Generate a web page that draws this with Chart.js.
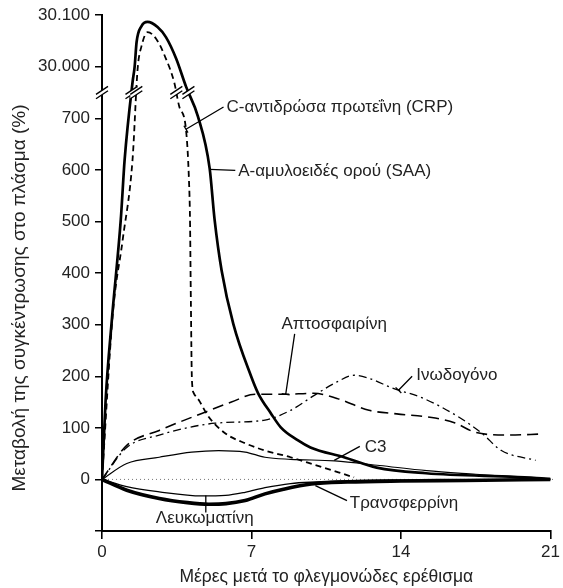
<!DOCTYPE html>
<html lang="el">
<head>
<meta charset="UTF-8">
<title>Πρωτεΐνες οξείας φάσης</title>
<script src="https://cdn.jsdelivr.net/npm/chart.js@4.4.1/dist/chart.umd.min.js"></script>
<style>
  body { margin: 0; background: #fff; }
  .wrap { position: relative; width: 563px; height: 588px; }
</style>
</head>
<body>
<div class="wrap"><canvas id="apr"></canvas></div>
<script>
// tick marks of the figure
const xTicks = [0, 7, 14, 21];
const yTicks = [0, 100, 200, 300, 400, 500, 600, 700, 30000, 30100];

// axis is cut between 700 and 30.000 (values above the cut are shifted down)
const BREAK_AT = 750;
const UPPER_SHIFT = 29200;

// days after the stimulus / % change
const saaDays = [0, 0.17, 0.46, 0.88, 1.06, 1.43, 1.53, 1.62, 1.85, 2.13, 2.6, 3.0, 3.47, 3.93, 4.49, 5.04, 5.27, 5.6, 6.15, 6.98, 7.31, 7.91, 8.37, 9.16, 9.76, 11.33, 12.86, 15.17, 20.58, 21];
const saaValues = [0, 154, 309, 504, 620, 29970, 30001, 30048, 30079, 30087, 30077, 30057, 30016, 29962, 704, 603, 504, 405, 301, 200, 167, 128, 101, 76, 62, 43, 23, 12, 2, 0];

const crpDays = [0, 0.51, 0.97, 1.43, 1.67, 1.85, 2.13, 2.54, 3.0, 3.38, 3.61, 3.93, 4.07, 4.12, 4.16, 4.21, 4.3, 4.53, 5.0, 5.78, 6.71, 7.63, 8.83, 9.6, 11.8];
const crpValues = [0, 323, 465, 620, 29997, 30040, 30067, 30054, 30015, 29970, 724, 679, 582, 504, 348, 193, 167, 154, 121, 89, 70, 56, 43, 33, 4];

const haptoDays = [0, 1.16, 2.68, 4.67, 6.06, 7.17, 8.5, 9.9, 11.0, 12.5, 13.8, 15.6, 16.5, 17.5, 19.0, 20.6];
const haptoValues = [0, 66, 95, 128, 150, 165, 165, 167, 157, 134, 127, 119, 110, 91, 86, 88];

const fibDays = [0, 1.16, 2.68, 5.3, 7.63, 8.83, 9.94, 11.0, 11.8, 12.5, 13.6, 15.0, 16.7, 17.8, 18.7, 20.3];
const fibValues = [0, 62, 86, 109, 115, 134, 163, 189, 202, 196, 177, 158, 121, 89, 56, 37];

const c3Days = [0, 1.16, 2.68, 4.2, 5.46, 6.7, 7.63, 8.83, 10.9, 13.0, 15.2, 17.5, 21];
const c3Values = [0, 31, 43, 53, 56, 53, 43, 39, 36, 27, 17, 10, 0];

const albDays = [0, 1.16, 2.68, 4.0, 5.0, 5.8, 6.7, 7.63, 8.5, 9.8, 11.5, 14, 17, 21];
const albValues = [0, -21, -37, -45, -48, -47, -41, -28, -19, -9, -5, -3, -2, 0];

const trfDays = [0, 1.16, 2.68, 4.67, 5.78, 6.7, 7.63, 8.83, 10, 12, 15, 21];
const trfValues = [0, -14, -24, -32, -31, -25, -16, -8, -5, -2, -1, 0];

const FONT = "'Liberation Sans', Arial, Helvetica, sans-serif";
const INK = '#222';

const toShown = v => (v > 1000 ? v - UPPER_SHIFT : v);
const toReal = s => (s > BREAK_AT ? s + UPPER_SHIFT : s);
const fmt = v => String(v).replace(/\B(?=(\d{3})+(?!\d))/g, '.');
const pts = (days, values) => days.map((d, i) => ({ x: d, y: toShown(values[i]) }));

// where a curve passes through the cut (linear between read points)
function crossings(days, values) {
  const out = [];
  for (let i = 1; i < days.length; i++) {
    const a = toShown(values[i - 1]) - BREAK_AT, b = toShown(values[i]) - BREAK_AT;
    if (a * b < 0) out.push(days[i - 1] + (days[i] - days[i - 1]) * a / (a - b));
  }
  return out;
}

function drawBreak(ctx, cx, cy) {
  const dx = 6, dy = 4, g = 2.2;
  ctx.save();
  ctx.fillStyle = '#fff';
  ctx.beginPath();
  ctx.moveTo(cx - dx, cy - g + dy);
  ctx.lineTo(cx + dx, cy - g - dy);
  ctx.lineTo(cx + dx, cy + g - dy);
  ctx.lineTo(cx - dx, cy + g + dy);
  ctx.closePath();
  ctx.fill();
  ctx.strokeStyle = '#000';
  ctx.lineWidth = 1.4;
  ctx.beginPath();
  ctx.moveTo(cx - dx, cy - g + dy); ctx.lineTo(cx + dx, cy - g - dy);
  ctx.moveTo(cx - dx, cy + g + dy); ctx.lineTo(cx + dx, cy + g - dy);
  ctx.stroke();
  ctx.restore();
}

// callout labels, placed in data units
const notes = [
  { text: 'C-αντιδρώσα πρωτεΐνη (CRP)', at: [5.83, 722], align: 'left', line: [[5.69, 722], [3.93, 679]], cap: true },
  { text: 'Α-αμυλοειδές ορού (SAA)', at: [6.38, 597], align: 'left', line: [[6.24, 599], [5.04, 601]] },
  { text: 'Απτοσφαιρίνη', at: [10.87, 300], align: 'center', line: [[9.02, 282], [8.6, 165]], cap: true },
  { text: 'Ινωδογόνο', at: [14.71, 202], align: 'left', line: [[14.52, 200], [13.88, 173]], cap: true },
  { text: 'C3', at: [12.3, 62], align: 'left', line: [[12.07, 64], [10.87, 37]] },
  { text: 'Τρανσφερρίνη', at: [11.6, -47], align: 'left', line: [[11.47, -41], [9.99, -12]] },
  { text: 'Λευκωματίνη', at: [4.81, -76], align: 'center', line: [[4.86, -31], [4.86, -64]] }
];

const decor = {
  id: 'decor',
  beforeDatasetsDraw(chart) {
    const { ctx, chartArea: a, scales: { y } } = chart;
    const y0 = y.getPixelForValue(0);
    ctx.save();
    ctx.strokeStyle = '#777';
    ctx.lineWidth = 1;
    ctx.setLineDash([1, 3]);
    ctx.beginPath();
    ctx.moveTo(a.left + 2, y0);
    ctx.lineTo(a.right + 5, y0);
    ctx.stroke();
    ctx.restore();
  },
  afterDraw(chart) {
    const { ctx, chartArea: a, scales: { x, y } } = chart;
    const by = y.getPixelForValue(BREAK_AT);
    drawBreak(ctx, a.left, by);
    [[saaDays, saaValues], [crpDays, crpValues]].forEach(([d, v]) =>
      crossings(d, v).forEach(c => drawBreak(ctx, x.getPixelForValue(c), by)));

    ctx.save();
    ctx.font = '17px ' + FONT;
    ctx.textBaseline = 'middle';
    notes.forEach(n => {
      const [p, q] = n.line.map(([dx, dy]) => [x.getPixelForValue(dx), y.getPixelForValue(dy)]);
      ctx.strokeStyle = '#000';
      ctx.lineWidth = 1.3;
      ctx.beginPath();
      ctx.moveTo(p[0], p[1]);
      ctx.lineTo(q[0], q[1]);
      if (n.cap) {
        const len = Math.hypot(q[0] - p[0], q[1] - p[1]);
        const ux = -(q[1] - p[1]) / len * 4, uy = (q[0] - p[0]) / len * 4;
        ctx.moveTo(q[0] - ux, q[1] - uy);
        ctx.lineTo(q[0] + ux, q[1] + uy);
      }
      ctx.stroke();
      ctx.fillStyle = INK;
      ctx.textAlign = n.align;
      ctx.fillText(n.text, x.getPixelForValue(n.at[0]), y.getPixelForValue(n.at[1]));
    });

    // y axis title, centred on the drawn axis rather than the plot box
    ctx.translate(20, 298);
    ctx.rotate(-Math.PI / 2);
    ctx.font = '19px ' + FONT;
    ctx.textAlign = 'center';
    ctx.fillText('Μεταβολή της συγκέντρωσης στο πλάσμα (%)', 0, 0);
    ctx.restore();
  }
};

const line = (days, values, width, dash) => ({
  data: pts(days, values),
  borderColor: '#000',
  borderWidth: width,
  borderDash: dash,
  pointRadius: 0,
  cubicInterpolationMode: 'monotone',
  fill: false
});

new Chart(document.getElementById('apr'), {
  type: 'line',
  data: {
    datasets: [
      line(albDays, albValues, 3.6, []),
      line(trfDays, trfValues, 1.3, []),
      line(c3Days, c3Values, 1.2, []),
      line(haptoDays, haptoValues, 1.6, [11, 6]),
      line(fibDays, fibValues, 1.3, [8, 4, 2, 4]),
      line(crpDays, crpValues, 1.8, [6, 4]),
      line(saaDays, saaValues, 2.7, [])
    ]
  },
  options: {
    responsive: true,
    maintainAspectRatio: false,
    animation: false,
    layout: { padding: { top: 15, right: 7, left: 0, bottom: 0 } },
    plugins: { legend: { display: false }, tooltip: { enabled: false } },
    scales: {
      x: {
        type: 'linear',
        min: 0,
        max: 21,
        afterBuildTicks: s => { s.ticks = xTicks.map(v => ({ value: v })); },
        afterFit: s => { s.height = 57; },
        ticks: { color: INK, font: { family: FONT, size: 17 }, padding: 3, maxRotation: 0 },
        grid: { drawOnChartArea: false, drawTicks: true, tickLength: 8, color: '#000', lineWidth: 1.6 },
        border: { display: true, color: '#000', width: 2 },
        title: {
          display: true,
          text: 'Μέρες μετά το φλεγμονώδες ερέθισμα',
          color: INK,
          font: { family: FONT, size: 17.5 },
          padding: { top: 2, bottom: 0 }
        }
      },
      y: {
        type: 'linear',
        min: -100,
        max: 900,
        afterBuildTicks: s => { s.ticks = [-100, ...yTicks.map(toShown)].map(v => ({ value: v })); },
        afterFit: s => { s.width = 102; },
        ticks: {
          color: INK,
          font: { family: FONT, size: 17 },
          padding: 5,
          callback: v => (v < 0 ? '' : fmt(toReal(v)))
        },
        grid: { drawOnChartArea: false, drawTicks: true, tickLength: 7, color: '#000', lineWidth: 1.5 },
        border: { display: true, color: '#000', width: 2 }
      }
    }
  },
  plugins: [decor]
});
</script>
</body>
</html>
